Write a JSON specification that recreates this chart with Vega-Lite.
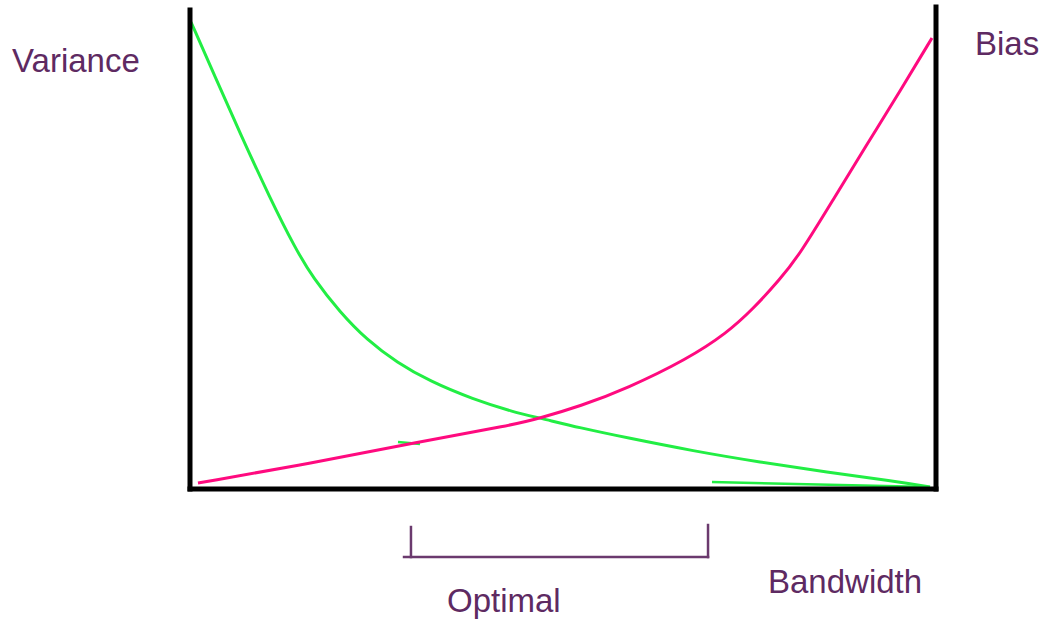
{
  "$schema": "https://vega.github.io/schema/vega-lite/v6.json",
  "width": 1045,
  "height": 623,
  "autosize": {"type": "fit", "contains": "padding"},
  "padding": 0,
  "background": "white",
  "config": {"view": {"stroke": null}},
  "datasets": {
    "curves": [
      {"series": "Variance", "bw": 0.13, "v": 99.36},
      {"series": "Variance", "bw": 3.4, "v": 87.6},
      {"series": "Variance", "bw": 6.70, "v": 75.74},
      {"series": "Variance", "bw": 10.72, "v": 61.9},
      {"series": "Variance", "bw": 14.08, "v": 51.3},
      {"series": "Variance", "bw": 16.49, "v": 44.9},
      {"series": "Variance", "bw": 20.11, "v": 37.6},
      {"series": "Variance", "bw": 23.73, "v": 31.70},
      {"series": "Variance", "bw": 27.75, "v": 26.9},
      {"series": "Variance", "bw": 32.17, "v": 22.9},
      {"series": "Variance", "bw": 37.94, "v": 19.1},
      {"series": "Variance", "bw": 43.30, "v": 16.4},
      {"series": "Variance", "bw": 46.92, "v": 15.10},
      {"series": "Variance", "bw": 52.28, "v": 13.0},
      {"series": "Variance", "bw": 58.58, "v": 10.9},
      {"series": "Variance", "bw": 67.43, "v": 8.1},
      {"series": "Variance", "bw": 76.41, "v": 5.7},
      {"series": "Variance", "bw": 85.39, "v": 3.6},
      {"series": "Variance", "bw": 94.24, "v": 1.7},
      {"series": "Variance", "bw": 99.20, "v": 0.43},
      {"series": "Bias", "bw": 1.07, "v": 1.28},
      {"series": "Bias", "bw": 16.49, "v": 5.53},
      {"series": "Bias", "bw": 29.89, "v": 9.79},
      {"series": "Bias", "bw": 43.30, "v": 13.62},
      {"series": "Bias", "bw": 46.92, "v": 15.10},
      {"series": "Bias", "bw": 52.28, "v": 17.6},
      {"series": "Bias", "bw": 58.58, "v": 21.4},
      {"series": "Bias", "bw": 66.62, "v": 27.6},
      {"series": "Bias", "bw": 71.98, "v": 33.19},
      {"series": "Bias", "bw": 75.47, "v": 38.3},
      {"series": "Bias", "bw": 79.09, "v": 44.6},
      {"series": "Bias", "bw": 81.77, "v": 50.0},
      {"series": "Bias", "bw": 86.19, "v": 61.5},
      {"series": "Bias", "bw": 90.62, "v": 73.0},
      {"series": "Bias", "bw": 95.17, "v": 84.6},
      {"series": "Bias", "bw": 99.46, "v": 95.96}
    ],
    "frame": [
      {"x": 0, "x2": 0, "y": 0, "y2": 101.9},
      {"x": 100, "x2": 100, "y": 0, "y2": 102.55},
      {"x": 0, "x2": 100, "y": 0, "y2": 0}
    ],
    "bracket": [
      {"x": 29.62, "x2": 29.62, "y": -8.09, "y2": -14.47},
      {"x": 28.69, "x2": 69.44, "y": -14.47, "y2": -14.47},
      {"x": 69.44, "x2": 69.44, "y": -7.66, "y2": -14.47}
    ],
    "strokes": [
      {"x": 69.97, "x2": 99.2, "y": 1.49, "y2": 0.43},
      {"x": 27.88, "x2": 30.83, "y": 10.0, "y2": 9.57}
    ],
    "labels": [
      {"label": "Variance", "x": -23.86, "y": 88.72},
      {"label": "Bias", "x": 105.23, "y": 92.34},
      {"label": "Bandwidth", "x": 77.48, "y": -22.13},
      {"label": "Optimal", "x": 34.45, "y": -26.17}
    ]
  },
  "layer": [
    {
      "data": {"name": "strokes"},
      "mark": {"type": "rule", "color": "#22ee44", "strokeWidth": 2.5},
      "encoding": {
        "x": {"field": "x", "type": "quantitative", "scale": {"domain": [-25.469, 114.611], "nice": false, "zero": false}, "axis": null},
        "x2": {"field": "x2"},
        "y": {"field": "y", "type": "quantitative", "scale": {"domain": [-28.511, 104.043], "nice": false, "zero": false}, "axis": null},
        "y2": {"field": "y2"}
      }
    },
    {
      "data": {"name": "curves"},
      "mark": {"type": "line", "strokeWidth": 3, "interpolate": "basis"},
      "encoding": {
        "x": {"field": "bw", "type": "quantitative", "scale": {"domain": [-25.469, 114.611], "nice": false, "zero": false}, "axis": null},
        "y": {"field": "v", "type": "quantitative", "scale": {"domain": [-28.511, 104.043], "nice": false, "zero": false}, "axis": null},
        "color": {"field": "series", "type": "nominal", "scale": {"domain": ["Variance", "Bias"], "range": ["#22ee44", "#ff0a7f"]}, "legend": null},
        "order": {"field": "bw", "type": "quantitative"}
      }
    },
    {
      "data": {"name": "frame"},
      "mark": {"type": "rule", "color": "black", "strokeWidth": 5, "strokeCap": "square"},
      "encoding": {
        "x": {"field": "x", "type": "quantitative", "axis": null},
        "x2": {"field": "x2"},
        "y": {"field": "y", "type": "quantitative", "axis": null},
        "y2": {"field": "y2"}
      }
    },
    {
      "data": {"name": "bracket"},
      "mark": {"type": "rule", "color": "#6b3a6e", "strokeWidth": 2.5, "strokeCap": "square"},
      "encoding": {
        "x": {"field": "x", "type": "quantitative", "axis": null},
        "x2": {"field": "x2"},
        "y": {"field": "y", "type": "quantitative", "axis": null},
        "y2": {"field": "y2"}
      }
    },
    {
      "data": {"name": "labels"},
      "mark": {"type": "text", "align": "left", "baseline": "alphabetic", "font": "Liberation Sans", "fontSize": 33, "color": "#5e2a62"},
      "encoding": {
        "x": {"field": "x", "type": "quantitative", "axis": null},
        "y": {"field": "y", "type": "quantitative", "axis": null},
        "text": {"field": "label", "type": "nominal"}
      }
    }
  ]
}
